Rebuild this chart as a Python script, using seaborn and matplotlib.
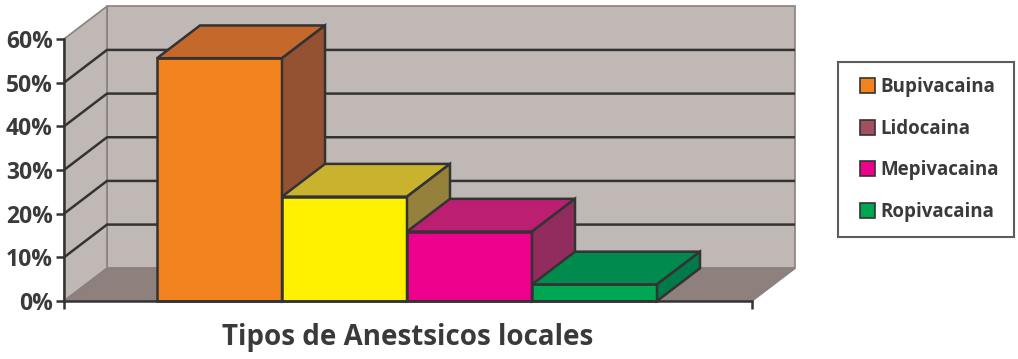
import matplotlib
matplotlib.use("Agg")
import matplotlib.pyplot as plt
import seaborn as sns
from matplotlib.patches import Polygon, Patch, Rectangle
from matplotlib.legend_handler import HandlerPatch
from matplotlib.ticker import PercentFormatter

# ---- data ----
categories = ["Bupivacaina", "Lidocaina", "Mepivacaina", "Ropivacaina"]
values = [55.6, 23.9, 15.9, 3.8]
front_colors = ["#F3831F", "#FFF100", "#EC008C", "#00A651"]
top_colors = ["#C4682C", "#C8B22E", "#BC1F72", "#008A4D"]
side_colors = ["#945233", "#95813C", "#922B5E", "#007A48"]
legend_colors = ["#F3831F", "#A0505F", "#EC008C", "#00A651"]
yticks = [0, 10, 20, 30, 40, 50, 60]
xlabel = "Tipos de Anestsicos locales"

sns.set_style("white")
plt.rcParams["font.family"] = ["Open Sans", "DejaVu Sans"]
plt.rcParams["font.weight"] = "bold"

DARK = "#333333"
WALL = "#C0B8B5"
FLOOR = "#8D807D"
EDGE_GRAY = "#8A8080"

fig = plt.figure(figsize=(10.18, 3.59), dpi=100)
ax = fig.add_axes([64 / 1018, 58 / 359, 688 / 1018, 262 / 359])

xl, xr = -1.244, 4.26
ymax = 60
dx, dy = 0.344, 7.5

ax.set_xlim(xl, xr)
ax.set_ylim(0, ymax)

# walls and floor
ax.add_patch(Polygon([(xl + dx, dy), (xr + dx, dy), (xr + dx, ymax + dy), (xl + dx, ymax + dy)],
                     closed=True, facecolor=WALL, edgecolor=EDGE_GRAY, lw=1.2, clip_on=False, zorder=0))
ax.add_patch(Polygon([(xl, 0), (xl + dx, dy), (xl + dx, ymax + dy), (xl, ymax)],
                     closed=True, facecolor=WALL, edgecolor=EDGE_GRAY, lw=1.2, clip_on=False, zorder=0))
ax.add_patch(Polygon([(xl, 0), (xr, 0), (xr + dx, dy), (xl + dx, dy)],
                     closed=True, facecolor=FLOOR, edgecolor=EDGE_GRAY, lw=1.2, clip_on=False, zorder=0.5))

# gridlines
for v in yticks[1:-1]:
    ax.plot([xl, xl + dx, xr + dx], [v, v + dy, v + dy], color=DARK, lw=1.8,
            clip_on=False, zorder=1, solid_capstyle="butt")

# front faces via seaborn
sns.barplot(x=categories, y=values, hue=categories, palette=front_colors, width=1.0,
            legend=False, edgecolor=DARK, linewidth=1.8, ax=ax, saturation=1)

for i, cont in enumerate(ax.containers):
    for rect in cont:
        x0 = rect.get_x()
        w = rect.get_width()
        h = rect.get_height()
        rect.set_zorder(3 + i)
        rect.set_clip_on(False)
        top = Polygon([(x0, h), (x0 + w, h), (x0 + w + dx, h + dy), (x0 + dx, h + dy)], closed=True,
                      facecolor=top_colors[i], edgecolor=DARK, lw=1.8, clip_on=False, zorder=3.5 + i,
                      joinstyle="miter")
        side = Polygon([(x0 + w, 0), (x0 + w + dx, dy), (x0 + w + dx, h + dy), (x0 + w, h)], closed=True,
                       facecolor=side_colors[i], edgecolor=DARK, lw=1.8, clip_on=False, zorder=3.5 + i,
                       joinstyle="miter")
        ax.add_patch(top)
        ax.add_patch(side)

# axes styling
for s in ["top", "right"]:
    ax.spines[s].set_visible(False)
for s in ["left", "bottom"]:
    ax.spines[s].set_color(DARK)
    ax.spines[s].set_linewidth(1.8)
    ax.spines[s].set_zorder(10)

ax.set_yticks(yticks)
ax.yaxis.set_major_formatter(PercentFormatter(xmax=100, decimals=0))
ax.set_xticks([xl, xr])
ax.set_xticklabels(["", ""])
ax.tick_params(axis="y", direction="out", length=6, width=1.8, color=DARK, labelsize=16.5,
               labelcolor="#3A3A3A", pad=2, left=True)
ax.tick_params(axis="x", direction="out", length=6, width=1.8, color=DARK, bottom=True)
for lab in ax.get_yticklabels():
    lab.set_fontweight("bold")

ax.set_xlabel(xlabel, fontsize=20, fontweight="bold", color="#3A3A3A", labelpad=6)
ax.set_ylabel("")


# legend with small square swatches right-aligned in the handle box
def square_patch(legend, orig_handle, xdescent, ydescent, width, height, fontsize):
    s = height * 1.05
    return Rectangle((-xdescent + width - s, -ydescent + (height - s) / 2), s, s)


handles = [Patch(facecolor=c, edgecolor=DARK, lw=1.2, label=l) for c, l in zip(legend_colors, categories)]
leg = fig.legend(handles=handles, loc="upper left", bbox_to_anchor=(838 / 1018, 1 - 62 / 359),
                 frameon=True, fancybox=False, labelspacing=1.15,
                 handlelength=1.15, handleheight=0.8, handletextpad=0.3, borderpad=0.8,
                 borderaxespad=0, prop={"weight": "bold", "size": 13.5},
                 handler_map={Patch: HandlerPatch(patch_func=square_patch)})
leg.get_frame().set_edgecolor(DARK)
leg.get_frame().set_linewidth(1.5)
for t in leg.get_texts():
    t.set_color("#3A3A3A")

fig.savefig("out.png", dpi=100, facecolor="white")
